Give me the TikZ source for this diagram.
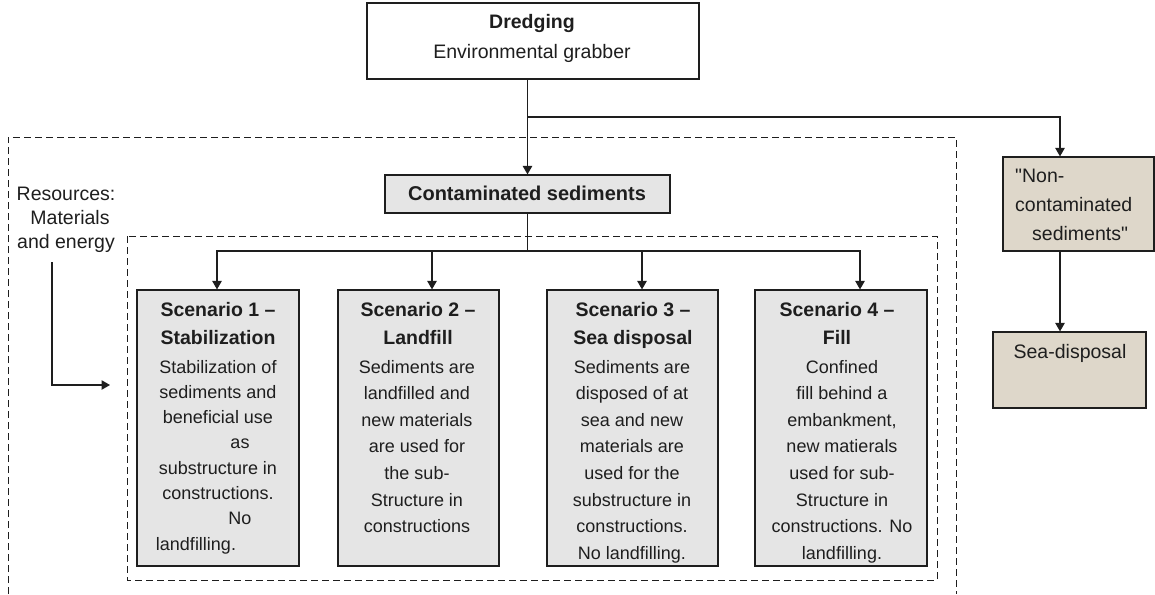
\documentclass[tikz,border=0pt]{standalone}
\usepackage{fontspec}
\setmainfont{Liberation Sans}[Ligatures=TeXOff]
\usetikzlibrary{arrows.meta}
\definecolor{boxgray}{HTML}{E5E5E5}
\definecolor{boxbeige}{HTML}{DED7CA}
\definecolor{ink}{HTML}{1E1E1E}
\begin{document}
\begin{tikzpicture}[x=1pt,y=-1pt,
  boxshape/.style={draw=ink, line width=1.2pt, rectangle, inner sep=0pt},
  scen/.style={boxshape, fill=boxgray, minimum width=#1, minimum height=276pt},
  arr/.style={draw=ink, line width=1.1pt, -{Triangle[width=9.5pt,length=8.5pt]}},
  plain/.style={draw=ink, line width=1.1pt},
  dashbox/.style={draw=ink, line width=0.9pt, dash pattern=on 7pt off 4pt},
  titlet/.style={anchor=base, inner sep=0pt, text=ink, font=\fontsize{19.5}{28}\selectfont\bfseries},
  bodyt/.style={anchor=base, inner sep=0pt, text=ink, font=\fontsize{18}{26.6}\selectfont},
  bodyone/.style={anchor=base, inner sep=0pt, text=ink, font=\fontsize{18}{25.3}\selectfont},
  labelt/.style={anchor=base, inner sep=0pt, text=ink, font=\fontsize{19.5}{24}\selectfont}
]
\useasboundingbox (0,0) rectangle (1155,594);
\setlength{\tabcolsep}{0pt}

% dashed frames
\draw[dashbox] (8,594) -- (8,137) -- (956,137) -- (956,594);
\draw[dashbox] (127,236) rectangle (937,580);

% boxes
\node[boxshape, fill=white, minimum width=332pt, minimum height=76pt] (dredge) at (533,41) {};
\node[boxshape, fill=boxgray, minimum width=285pt, minimum height=38pt] (contam) at (527.5,194) {};
\node[scen=162pt] (s1) at (218,428) {};
\node[scen=161pt] (s2) at (418.5,428) {};
\node[scen=171pt] (s3) at (632.5,428) {};
\node[scen=172pt] (s4) at (841,428) {};
\node[boxshape, fill=boxbeige, minimum width=151pt, minimum height=94pt] (noncont) at (1078.5,204) {};
\node[boxshape, fill=boxbeige, minimum width=153pt, minimum height=76pt] (seadisp) at (1069.5,370) {};

% texts
\node[titlet] (dredgeT) at (532,29) {Dredging};
\node[labelt] (dredgeB) at (532,59) {Environmental grabber};
\node[titlet, font=\fontsize{20}{28}\selectfont\bfseries] (contamT) at (527,200) {Contaminated sediments};

\node[labelt] (res) at (66,200) {\begin{tabular}[t]{@{}c@{}}Resources:\\\hspace*{8pt}Materials\\and energy\end{tabular}};

\node[titlet] (s1T) at (218,316.5) {\begin{tabular}[t]{@{}c@{}}Scenario 1 –\\Stabilization\end{tabular}};
\node[bodyone] (s1B) at (218,373) {\begin{tabular}[t]{@{}c@{}}Stabilization of\\sediments and\\beneficial use\\\hspace*{44pt}as\\substructure in\\constructions.\\\hspace*{44pt}No\\landfilling.\hspace*{44pt}\end{tabular}};

\node[titlet] (s2T) at (418,316.5) {\begin{tabular}[t]{@{}c@{}}Scenario 2 –\\Landfill\end{tabular}};
\node[bodyt] (s2B) at (417,373) {\begin{tabular}[t]{@{}c@{}}Sediments are\\landfilled and\\new materials\\are used for\\the sub-\\Structure in\\constructions\end{tabular}};

\node[titlet] (s3T) at (633,316.5) {\begin{tabular}[t]{@{}c@{}}Scenario 3 –\\Sea disposal\end{tabular}};
\node[bodyt] (s3B) at (632,373) {\begin{tabular}[t]{@{}c@{}}Sediments are\\disposed of at\\sea and new\\materials are\\used for the\\substructure in\\constructions.\\No landfilling.\end{tabular}};

\node[titlet] (s4T) at (837,316.5) {\begin{tabular}[t]{@{}c@{}}Scenario 4 –\\Fill\end{tabular}};
\node[bodyt] (s4B) at (842,373) {\begin{tabular}[t]{@{}c@{}}Confined\\fill behind a\\embankment,\\new matierals\\used for sub-\\Structure in\\constructions. No\\landfilling.\end{tabular}};

\node[labelt, anchor=base west, font=\fontsize{19.5}{29}\selectfont] (noncontT) at (1015,182) {\begin{tabular}[t]{@{}l@{}}"Non-\\contaminated\\\hspace*{17pt}sediments"\end{tabular}};
\node[labelt] (seadispT) at (1070,358) {Sea-disposal};

% connectors
\coordinate (j1) at (527.5,117);
\coordinate (bus) at (527.5,251);
\draw[arr] (contam.north |- dredge.south) -- (contam.north);
\draw[arr] (j1) -| ([xshift=-18.5pt]noncont.north);
\draw[arr] ([xshift=-18.5pt]noncont.south) -- ([xshift=-9.5pt]seadisp.north);
\draw[plain] (contam.south) -- (bus);
\draw[arr] (bus) -| ([xshift=-1pt]s1.north);
\draw[arr] (bus) -| ([xshift=13.5pt]s2.north);
\draw[arr] (bus) -| ([xshift=9.5pt]s3.north);
\draw[arr] (bus) -| ([xshift=19pt]s4.north);

\coordinate (rstart) at (52,262);
\coordinate (rend) at (110,385);
\draw[arr] (rstart) |- (rend);
\end{tikzpicture}
\end{document}
